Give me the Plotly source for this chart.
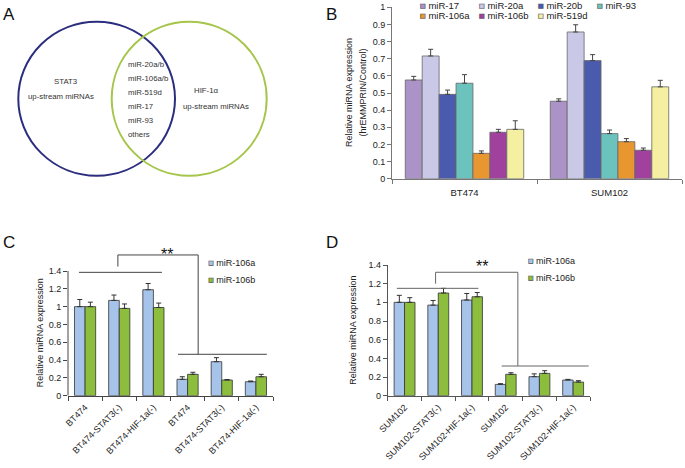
import plotly.graph_objects as go

FONT = "Liberation Sans, Arial, sans-serif"
W, H = 685, 468

# ---------------- Panel A (Venn) ----------------
venn_left_title = ["STAT3", "up-stream miRNAs"]
venn_right_title = ["HIF-1α", "up-stream miRNAs"]
venn_shared = ["miR-20a/b", "miR-106a/b", "miR-519d", "miR-17", "miR-93", "others"]

# ---------------- Panel B ----------------
b_cells = ["BT474", "SUM102"]
b_names = ["miR-17", "miR-20a", "miR-20b", "miR-93", "miR-106a", "miR-106b", "miR-519d"]
b_colors = ["#ab93c7", "#cac8e7", "#4a5bae", "#6cc3bd", "#e8962f", "#a1419e", "#f5f0a1"]
b_mir17 = [0.576, 0.452]
b_mir17_err = [0.021, 0.014]
b_mir20a = [0.716, 0.856]
b_mir20a_err = [0.039, 0.042]
b_mir20b = [0.492, 0.689]
b_mir20b_err = [0.025, 0.035]
b_mir93 = [0.557, 0.263]
b_mir93_err = [0.050, 0.021]
b_mir106a = [0.148, 0.216]
b_mir106a_err = [0.014, 0.018]
b_mir106b = [0.271, 0.166]
b_mir106b_err = [0.017, 0.013]
b_mir519d = [0.288, 0.536]
b_mir519d_err = [0.050, 0.038]

# ---------------- Panel C ----------------
c_labels = ["BT474", "BT474-STAT3(-)", "BT474-HIF-1a(-)",
            "BT474", "BT474-STAT3(-)", "BT474-HIF-1a(-)"]
c_106a = [1.00, 1.07, 1.19, 0.184, 0.382, 0.157]
c_106a_err = [0.08, 0.06, 0.07, 0.029, 0.045, 0.008]
c_106b = [1.00, 0.98, 0.99, 0.240, 0.176, 0.213]
c_106b_err = [0.05, 0.05, 0.05, 0.023, 0.006, 0.027]

# ---------------- Panel D ----------------
d_labels = ["SUM102", "SUM102-STAT3(-)", "SUM102-HIF-1a(-)",
            "SUM102", "SUM102-STAT3(-)", "SUM102-HIF-1a(-)"]
d_106a = [1.00, 0.97, 1.025, 0.121, 0.204, 0.168]
d_106a_err = [0.075, 0.05, 0.07, 0.008, 0.030, 0.007]
d_106b = [1.00, 1.10, 1.06, 0.229, 0.239, 0.146]
d_106b_err = [0.05, 0.05, 0.045, 0.017, 0.029, 0.015]

pair_names = ["miR-106a", "miR-106b"]
pair_colors = ["#a6c4e9", "#8cbd3d"]

y_title = "Relative miRNA expression"
y_title_b2 = "(hrEMMPRIN/Control)"


def px_x(px):
    return px / W


def px_y(py):
    return 1 - py / H


def legend_name(name, color):
    return ('<span style="color:%s;stroke:#555;stroke-width:0.6px">■</span> %s'
            % (color, name))


HIDDEN = dict(color="rgba(0,0,0,0)", size=1, line=dict(width=0))

fig = go.Figure()

# ----- Panel B bars -----
b_vals = [b_mir17, b_mir20a, b_mir20b, b_mir93, b_mir106a, b_mir106b, b_mir519d]
b_errs = [b_mir17_err, b_mir20a_err, b_mir20b_err, b_mir93_err,
          b_mir106a_err, b_mir106b_err, b_mir519d_err]
for i, (nm, col, v, e) in enumerate(zip(b_names, b_colors, b_vals, b_errs)):
    fig.add_trace(go.Bar(
        x=b_cells, y=v, name=nm, xaxis="x", yaxis="y", showlegend=False,
        marker=dict(color=col, line=dict(color="#666", width=0.8)),
        error_y=dict(type="data", array=e, arrayminus=[0] * len(e), symmetric=False,
                     color="#444", thickness=1, width=2.5),
        hoverinfo="skip"))
    last_in_row = (i == 3) or (i == len(b_names) - 1)
    fig.add_trace(go.Scatter(
        x=[None], y=[None], mode="markers", marker=HIDDEN,
        name=legend_name(nm, col), xaxis="x", yaxis="y",
        legend="legend" if i < 4 else "legend2",
        legendwidth=70 if last_in_row else 14, hoverinfo="skip"))

# ----- Panels C and D bars -----
bar_w = 0.31
panels = [
    ("x3", "y3", [c_106a, c_106b], [c_106a_err, c_106b_err], ["legend3", "legend4"]),
    ("x4", "y4", [d_106a, d_106b], [d_106a_err, d_106b_err], ["legend5", "legend6"]),
]
for xa, ya, vals, errs, legs in panels:
    for k in range(2):
        xs = list(range(len(vals[k])))
        fig.add_trace(go.Bar(
            x=xs, y=vals[k], name=pair_names[k], xaxis=xa, yaxis=ya, showlegend=False,
            width=bar_w, offset=-bar_w if k == 0 else 0,
            marker=dict(color=pair_colors[k], line=dict(color="#333", width=0.8)),
            error_y=dict(type="data", array=errs[k], arrayminus=[0] * len(errs[k]),
                         symmetric=False, color="#333", thickness=1, width=2.5),
            hoverinfo="skip"))
        fig.add_trace(go.Scatter(
            x=[None], y=[None], mode="markers", marker=HIDDEN,
            name=legend_name(pair_names[k], pair_colors[k]), xaxis=xa, yaxis=ya,
            legend=legs[k], legendwidth=70, hoverinfo="skip"))

tickfont = dict(family=FONT, size=9, color="#222")

# ----- axes -----
layout_axes = dict(
    # Panel B
    xaxis=dict(domain=[px_x(392), px_x(682)], type="category", range=[-0.5, 1.5],
               showline=True, linecolor="#777", linewidth=1, ticks="outside",
               tickson="boundaries", ticklen=4, tickcolor="#777", ticklabelstandoff=5,
               tickfont=dict(family=FONT, size=9.5, color="#222"),
               showgrid=False, zeroline=False, anchor="y", automargin=False),
    yaxis=dict(domain=[px_y(178.7), px_y(7.3)], range=[0, 1],
               tickvals=[i / 10 for i in range(11)],
               ticktext=["0", "0.1", "0.2", "0.3", "0.4", "0.5", "0.6", "0.7", "0.8", "0.9", "1"],
               showline=True, linecolor="#777", linewidth=1, ticks="outside",
               ticklen=4, tickcolor="#777", tickfont=tickfont,
               showgrid=False, zeroline=False, anchor="x", automargin=False),
    # Panel C
    xaxis3=dict(domain=[px_x(68), px_x(273)], range=[-0.5, 5.5],
                tickvals=list(range(6)), ticktext=c_labels, tickangle=-45, ticks="",
                minor=dict(tickvals=[i - 0.5 for i in range(7)], ticks="outside",
                           ticklen=4, tickcolor="#444"),
                showline=True, linecolor="#444", linewidth=1, tickfont=tickfont,
                ticklabelstandoff=2,
                showgrid=False, zeroline=False, anchor="y3", automargin=False),
    yaxis3=dict(domain=[px_y(395.7), px_y(395.7 - 1.62 * 89.07)], range=[0, 1.62],
                tickvals=[0, 0.2, 0.4, 0.6, 0.8, 1.0, 1.2, 1.4],
                ticktext=["0", "0.2", "0.4", "0.6", "0.8", "1", "1.2", "1.4"],
                showline=False, ticks="outside", ticklen=4, tickcolor="#444",
                tickfont=tickfont, showgrid=False, zeroline=False, anchor="x3",
                automargin=False),
    # Panel D
    xaxis4=dict(domain=[px_x(387.7), px_x(590)], range=[-0.5, 5.5],
                tickvals=list(range(6)), ticktext=d_labels, tickangle=-45, ticks="",
                minor=dict(tickvals=[i - 0.5 for i in range(7)], ticks="outside",
                           ticklen=4, tickcolor="#555"),
                showline=True, linecolor="#555", linewidth=1, tickfont=tickfont,
                ticklabelstandoff=2,
                showgrid=False, zeroline=False, anchor="y4", automargin=False),
    yaxis4=dict(domain=[px_y(395.7), px_y(265)], range=[0, 1.4],
                tickvals=[0, 0.2, 0.4, 0.6, 0.8, 1.0, 1.2, 1.4],
                ticktext=["0", "0.2", "0.4", "0.6", "0.8", "1", "1.2", "1.4"],
                showline=True, linecolor="#555", linewidth=1, ticks="outside",
                ticklen=4, tickcolor="#555", tickfont=tickfont,
                showgrid=False, zeroline=False, anchor="x4", automargin=False),
    # Panel A (Venn canvas, 1 unit = 1 px)
    xaxis5=dict(domain=[0, px_x(280)], range=[0, 280], visible=False, anchor="y5"),
    yaxis5=dict(domain=[px_y(190), 1], range=[190, 0], visible=False, anchor="x5"),
)


# ----- legends -----
def leg(xpx, ypx, size):
    return dict(x=px_x(xpx - 40), y=px_y(ypx), xanchor="left", yanchor="middle",
                orientation="h", bgcolor="rgba(0,0,0,0)", borderwidth=0,
                font=dict(family=FONT, size=size, color="#222"))


legends = dict(
    legend=leg(420, 5.7, 9.5),
    legend2=leg(420, 15.7, 9.5),
    legend3=leg(208.3, 262.7, 9),
    legend4=leg(208.3, 279.3, 9),
    legend5=leg(528, 260.7, 9),
    legend6=leg(528, 277.7, 9),
)

# ----- shapes -----
shapes = []
# Venn circles
shapes.append(dict(type="circle", xref="x5", yref="y5", x0=18.3, x1=175, y0=21.7, y1=175.7,
                   line=dict(color="#2b2d7e", width=2)))
shapes.append(dict(type="circle", xref="x5", yref="y5", x0=111.7, x1=266.7, y0=21.7, y1=175.7,
                   line=dict(color="#a6c54a", width=2)))
# Panel C y-axis line (0 .. 1.4)
shapes.append(dict(type="line", xref="x3 domain", yref="y3", x0=0, x1=0, y0=0, y1=1.4,
                   line=dict(color="#444", width=1)))


def seg(xa, ya, x0, y0, x1, y1, color):
    return dict(type="line", xref=xa, yref=ya, x0=x0, y0=y0, x1=x1, y1=y1,
                line=dict(color=color, width=1))


# Panel C significance bracket
shapes += [
    seg("x3", "y3", -0.18, 1.385, 2.25, 1.385, "#444"),
    seg("x3", "y3", 0.96, 1.45, 0.96, 1.58, "#444"),
    seg("x3", "y3", 0.96, 1.58, 3.31, 1.58, "#444"),
    seg("x3", "y3", 3.31, 1.58, 3.31, 0.465, "#444"),
    seg("x3", "y3", 2.72, 0.465, 5.32, 0.465, "#444"),
]
# Panel D significance bracket
shapes += [
    seg("x4", "y4", -0.23, 1.15, 2.19, 1.15, "#666"),
    seg("x4", "y4", 0.92, 1.20, 0.92, 1.322, "#666"),
    seg("x4", "y4", 0.92, 1.322, 3.36, 1.322, "#666"),
    seg("x4", "y4", 3.36, 1.322, 3.36, 0.318, "#666"),
    seg("x4", "y4", 2.88, 0.318, 5.46, 0.318, "#666"),
]

# ----- annotations -----
ann = []
for letter, xpx, ypx in [("A", 9, 15), ("B", 331, 15), ("C", 9, 242), ("D", 331.5, 242)]:
    ann.append(dict(text=letter, xref="paper", yref="paper", x=px_x(xpx), y=px_y(ypx),
                    xanchor="center", yanchor="middle", showarrow=False,
                    font=dict(family=FONT, size=17, color="#111")))

venn_font = dict(family=FONT, size=7.8, color="#333")
ann.append(dict(text=venn_left_title[0], xref="x5", yref="y5", x=65.5, y=81.7,
                showarrow=False, font=venn_font))
ann.append(dict(text=venn_left_title[1], xref="x5", yref="y5", x=61, y=96.7,
                showarrow=False, font=venn_font))
ann.append(dict(text=venn_right_title[0], xref="x5", yref="y5", x=205.5, y=90.7,
                showarrow=False, font=venn_font))
ann.append(dict(text=venn_right_title[1], xref="x5", yref="y5", x=215.5, y=106,
                showarrow=False, font=venn_font))
for i, nm in enumerate(venn_shared):
    ann.append(dict(text=nm, xref="x5", yref="y5", x=126, y=64.3 + i * 14.1,
                    xanchor="left", showarrow=False, font=venn_font))

title_font = dict(family=FONT, size=9, color="#222")
ann.append(dict(text=y_title, xref="paper", yref="y", x=px_x(349), y=0.5, textangle=-90,
                showarrow=False, font=title_font))
ann.append(dict(text=y_title_b2, xref="paper", yref="y", x=px_x(362.5), y=0.5, textangle=-90,
                showarrow=False, font=title_font))
ann.append(dict(text=y_title, xref="paper", yref="y3", x=px_x(33), y=0.7, textangle=-90,
                showarrow=False, font=title_font))
ann.append(dict(text=y_title, xref="paper", yref="y4", x=px_x(353.3), y=0.7, textangle=-90,
                showarrow=False, font=title_font))

star_font = dict(family=FONT, size=16, color="#111")
ann.append(dict(text="**", xref="x3", yref="y3", x=2.406, y=1.589, showarrow=False,
                font=star_font))
ann.append(dict(text="**", xref="x4", yref="y4", x=2.305, y=1.381, showarrow=False,
                font=star_font))

fig.update_layout(
    template="none",
    width=W, height=H,
    margin=dict(l=0, r=0, t=0, b=0, autoexpand=False),
    paper_bgcolor="white", plot_bgcolor="rgba(0,0,0,0)",
    font=dict(family=FONT, size=9, color="#222"),
    barmode="group", bargap=0.183, bargroupgap=0,
    hovermode=False,
    shapes=shapes,
    annotations=ann,
    **layout_axes,
    **legends,
)

fig.write_html("out.html", config={"displayModeBar": False},
               post_script="document.body.style.margin='0';")
